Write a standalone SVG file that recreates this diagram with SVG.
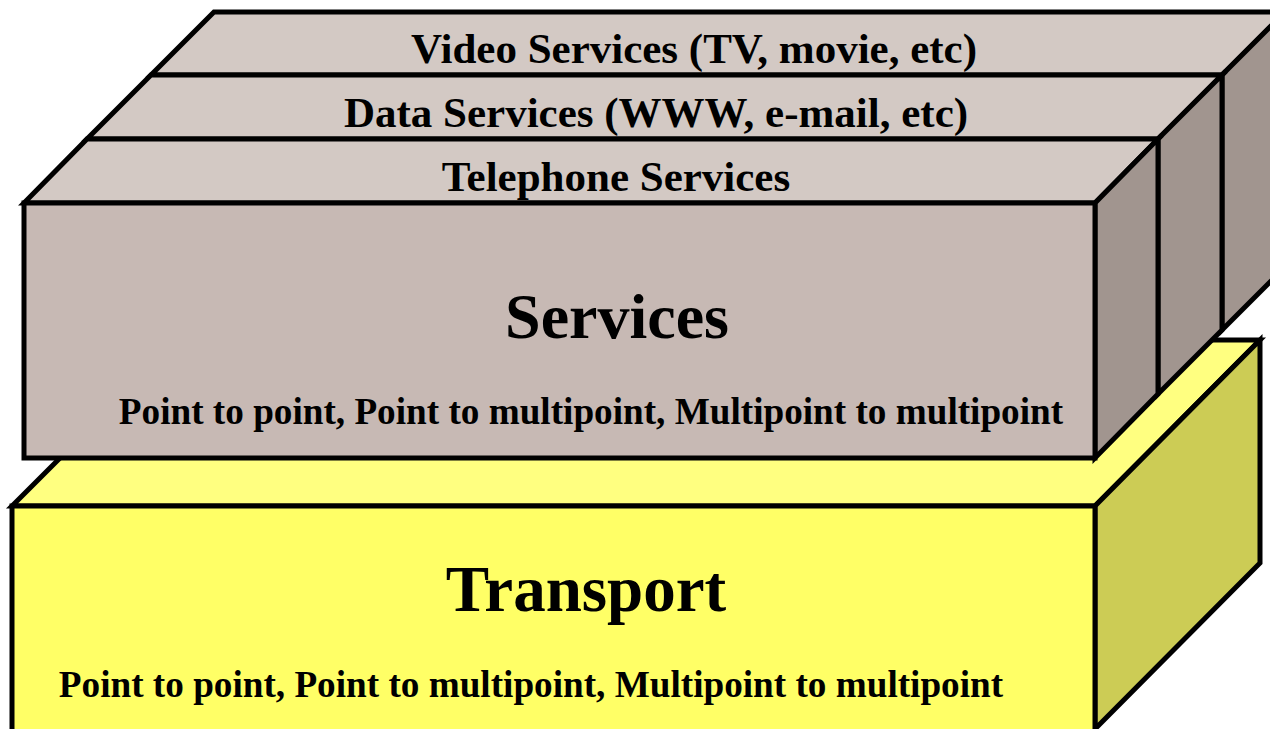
<svg xmlns="http://www.w3.org/2000/svg" width="1270" height="729" viewBox="0 0 1270 729">
  <style>
    .edge { stroke: #000; stroke-width: 5; stroke-linejoin: miter; }
    .svcTop { fill: #d3c9c4; }
    .svcFront { fill: #c7b9b4; }
    .svcSide { fill: #a1958f; }
    .trTop { fill: #ffff80; }
    .trFront { fill: #ffff66; }
    .trSide { fill: #cccc55; }
    text { font-family: "Liberation Serif", "Times New Roman", serif; font-weight: bold; fill: #000; text-anchor: middle; }
    .strip { font-size: 43px; }
    .big { font-size: 64px; }
    .bigT { font-size: 65px; }
    .small { font-size: 37.2px; }
  </style>

  <!-- Transport slab (bottom) -->
  <g id="transport">
    <polygon class="trTop edge" points="12,506 178,340 1260,340 1095,506"/>
    <polygon class="trSide edge" points="1095,506 1260,340 1260,563 1095,729"/>
    <rect class="trFront edge" x="12" y="506" width="1083" height="230"/>
    <text class="bigT" x="586" y="611">Transport</text>
    <text class="small" x="531" y="697">Point to point, Point to multipoint, Multipoint to multipoint</text>
  </g>

  <!-- Video services strip (rearmost) -->
  <g id="video-services">
    <polygon class="svcTop edge" points="214,12 1285,12 1222,75 151,75"/>
    <polygon class="svcSide edge" points="1222,75 1285,12 1285,267 1222,330"/>
    <text class="strip" x="694" y="63">Video Services (TV, movie, etc)</text>
  </g>

  <!-- Data services strip -->
  <g id="data-services">
    <polygon class="svcTop edge" points="151,75 1222,75 1158,139 87,139"/>
    <polygon class="svcSide edge" points="1158,139 1222,75 1222,330 1158,394"/>
    <text class="strip" x="656" y="127">Data Services (WWW, e-mail, etc)</text>
  </g>

  <!-- Telephone services strip (front slab top) -->
  <g id="telephone-services">
    <polygon class="svcTop edge" points="87,139 1158,139 1095,203 24,203"/>
    <polygon class="svcSide edge" points="1095,203 1158,139 1158,394 1095,458"/>
    <text class="strip" x="616" y="191">Telephone Services</text>
  </g>

  <!-- Services front face -->
  <g id="services">
    <rect class="svcFront edge" x="24" y="203" width="1071" height="255"/>
    <text class="big" x="617" y="338">Services</text>
    <text class="small" x="591" y="424">Point to point, Point to multipoint, Multipoint to multipoint</text>
  </g>

  <g id="connectors"/>
</svg>
